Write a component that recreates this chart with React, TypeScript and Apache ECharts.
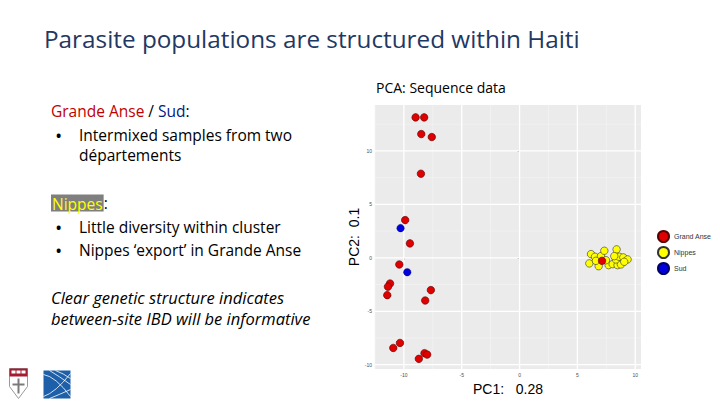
import React, { useEffect, useRef } from "react";
import * as echarts from "echarts";

const legendNames = ["Grand Anse", "Nippes", "Sud"];

const grandAnse: number[][] = [
  [-8.99, 13.14], [-8.25, 13.14], [-8.5, 11.58], [-7.59, 11.3], [-8.53, 7.87],
  [-9.89, 3.53], [-9.48, 1.35], [-10.4, -0.62], [-11.2, -2.4], [-11.38, -2.7],
  [-11.44, -3.49], [-7.67, -3.02], [-8.16, -3.99], [-10.34, -7.96], [-10.92, -8.43],
  [-8.22, -8.92], [-7.99, -9.05], [-8.71, -9.45], [7.13, -0.28],
];

const nippes: number[][] = [
  [6.18, 0.35], [6.52, 0.1], [7.04, 0.16], [7.33, 0.66], [8.39, 0.79],
  [6.03, -0.52], [6.84, -0.78], [7.7, -0.68], [8.05, -0.59], [8.47, -0.68],
  [8.76, -0.62], [8.33, -0.15], [8.62, 0.1], [8.97, 0.04], [9.34, -0.15],
  [9.05, -0.37], [8.19, 0.16], [7.47, -0.22], [6.6, -0.28],
];

const sud: number[][] = [
  [-10.29, 2.78], [-9.71, -1.34],
];

const xMajorTicks = [-10, -5, 0, 5, 10];
const xMinorTicks = [-12.5, -7.5, -2.5, 2.5, 7.5];
const yMajorTicks = [-10, -5, 0, 5, 10];
const yMinorTicks = [-7.5, -2.5, 2.5, 7.5, 12.5];

const xRange = [-12.5, 10.5];
const yRange = [-10.4, 14.3];

const FONT = "'Open Sans', Lato, sans-serif";

export default function App() {
  const ref = useRef<HTMLDivElement>(null);

  useEffect(() => {
    if (!ref.current) return;
    const chart = echarts.init(ref.current, undefined, { renderer: "svg" });

    const tickLabel = { fontSize: 5, color: "#4D4D4D", fontFamily: "Liberation Sans" };

    const gridSeries = (vals: number[], dir: "x" | "y", color: string, width: number) =>
      vals.map((v) => ({
        name: `${dir}grid${v}`,
        type: "line",
        data: dir === "x" ? [[v, yRange[0]], [v, yRange[1]]] : [[xRange[0], v], [xRange[1], v]],
        symbol: "none",
        silent: true,
        z: 1,
        lineStyle: { color, width },
        emphasis: { disabled: true },
        tooltip: { show: false },
      }));

    const txt = (text: string, x: number, y: number, font: string, fill = "#000", rich?: any) => ({
      type: "text",
      x,
      y,
      style: { text, font, fill, verticalAlign: "middle", align: "left", ...(rich ? { rich } : {}) },
    });

    const body = `15.5px ${FONT}`;

    const option: any = {
      animation: false,
      backgroundColor: "#ffffff",
      grid: { left: 375, right: 79, top: 105, bottom: 36, show: true, backgroundColor: "#EBEBEB", borderWidth: 0 },
      legend: {
        data: legendNames,
        orient: "vertical",
        left: 652,
        top: 225,
        icon: "circle",
        itemWidth: 11,
        itemHeight: 11,
        itemGap: 3,
        textStyle: { fontSize: 7, color: "#333", fontFamily: "Liberation Sans" },
      },
      xAxis: {
        type: "value",
        min: xRange[0],
        max: xRange[1],
        name: "PC1:   0.28",
        nameLocation: "middle",
        nameGap: 6,
        nameTextStyle: { fontSize: 14, color: "#000", fontFamily: "Liberation Sans" },
        axisLine: { show: false },
        axisTick: { show: true, length: 2, lineStyle: { color: "#555", width: 0.6 }, customValues: xMajorTicks },
        axisLabel: { ...tickLabel, margin: 3, customValues: xMajorTicks },
        splitLine: { show: false },
      },
      yAxis: {
        type: "value",
        min: yRange[0],
        max: yRange[1],
        name: "PC2:  0.1",
        nameLocation: "middle",
        nameGap: 11,
        nameTextStyle: { fontSize: 14, color: "#000", fontFamily: "Liberation Sans" },
        axisLine: { show: false },
        axisTick: { show: true, length: 2, lineStyle: { color: "#555", width: 0.6 }, customValues: yMajorTicks },
        axisLabel: { ...tickLabel, margin: 3, customValues: yMajorTicks },
        splitLine: { show: false },
      },
      series: [
        ...gridSeries(xMinorTicks, "x", "#F4F4F4", 0.7),
        ...gridSeries(yMinorTicks, "y", "#F4F4F4", 0.7),
        ...gridSeries(xMajorTicks, "x", "#FFFFFF", 1.3),
        ...gridSeries(yMajorTicks, "y", "#FFFFFF", 1.3),
        {
          name: "Nippes",
          type: "scatter",
          data: nippes,
          symbolSize: 7.5,
          z: 10,
          itemStyle: { color: "#FFFF00", borderColor: "#333", borderWidth: 0.6, opacity: 1 },
        },
        {
          name: "Grand Anse",
          type: "scatter",
          data: grandAnse,
          symbolSize: 7.5,
          z: 10,
          itemStyle: { color: "#E00000", borderColor: "#5a0000", borderWidth: 0.6, opacity: 1 },
        },
        {
          name: "Sud",
          type: "scatter",
          data: sud,
          symbolSize: 7.5,
          z: 10,
          itemStyle: { color: "#0000DD", borderColor: "#00006a", borderWidth: 0.4, opacity: 1 },
        },
      ],
      graphic: [
        txt("Parasite populations are structured within Haiti", 44, 38, `24.3px ${FONT}`, "#1F3864"),
        txt("PCA: Sequence data", 376, 87, `14px ${FONT}`),
        txt("{r|Grande Anse} / {b|Sud}:", 51, 111, body, "#000", {
          r: { fill: "#C00000", font: body },
          b: { fill: "#002080", font: body },
        }),
        txt("•", 56, 135, `bold 14px ${FONT}`),
        txt("Intermixed samples from two", 79, 135, body),
        txt("départements", 79, 155, body),
        txt("{n|Nippes}:", 51, 203, body, "#000", {
          n: { fill: "#FFFF00", backgroundColor: "#7F7F7F", font: body, padding: [1, 1, 0, 1] },
        }),
        txt("•", 56, 227, `bold 14px ${FONT}`),
        txt("Little diversity within cluster", 79, 227, body),
        txt("•", 56, 250, `bold 14px ${FONT}`),
        txt("Nippes ‘export’ in Grande Anse", 79, 250, body),
        txt("Clear genetic structure indicates", 51, 297, `italic 16.5px ${FONT}`),
        txt("between-site IBD will be informative", 51, 318, `italic 16.5px ${FONT}`),
        // Shield logo
        {
          type: "group",
          left: 9,
          top: 368,
          children: [
            { type: "polygon", shape: { points: [[0, 0], [18, 0], [18, 18], [9, 30], [0, 18]] }, style: { fill: "#ffffff", stroke: "#9a9a9a", lineWidth: 1 } },
            { type: "rect", shape: { x: 0, y: 0, width: 18, height: 8 }, style: { fill: "#A51C30" } },
            { type: "rect", shape: { x: 2, y: 2, width: 4, height: 3 }, style: { fill: "#ffffff" } },
            { type: "rect", shape: { x: 7, y: 2, width: 4, height: 3 }, style: { fill: "#ffffff" } },
            { type: "rect", shape: { x: 12, y: 2, width: 4, height: 3 }, style: { fill: "#ffffff" } },
            { type: "rect", shape: { x: 8, y: 10, width: 2, height: 15 }, style: { fill: "#7a7a7a" } },
            { type: "rect", shape: { x: 3, y: 15, width: 12, height: 2 }, style: { fill: "#7a7a7a" } },
          ],
        },
        // Blue logo
        {
          type: "group",
          left: 41,
          top: 368,
          children: [
            { type: "rect", shape: { x: 0, y: 0, width: 27, height: 28 }, style: { fill: "#1D5FA8" } },
            { type: "bezierCurve", shape: { x1: 0, y1: 4, x2: 27, y2: 26, cpx1: 12, cpy1: 6 }, style: { stroke: "#ffffff", lineWidth: 0.8, fill: "none" } },
            { type: "bezierCurve", shape: { x1: 0, y1: 26, x2: 27, y2: 3, cpx1: 12, cpy1: 22 }, style: { stroke: "#ffffff", lineWidth: 0.8, fill: "none" } },
            { type: "bezierCurve", shape: { x1: 6, y1: 0, x2: 27, y2: 14, cpx1: 16, cpy1: 6 }, style: { stroke: "#ffffff", lineWidth: 0.8, fill: "none" } },
            { type: "bezierCurve", shape: { x1: 6, y1: 28, x2: 27, y2: 19, cpx1: 16, cpy1: 24 }, style: { stroke: "#ffffff", lineWidth: 0.8, fill: "none" } },
            { type: "bezierCurve", shape: { x1: 12, y1: 0, x2: 27, y2: 8, cpx1: 20, cpy1: 3 }, style: { stroke: "#ffffff", lineWidth: 0.8, fill: "none" } },
          ],
        },
      ],
    };

    chart.setOption(option);
    return () => chart.dispose();
  }, []);

  return <div ref={ref} style={{ position: "absolute", left: 0, top: 0, width: 720, height: 405 }} />;
}
